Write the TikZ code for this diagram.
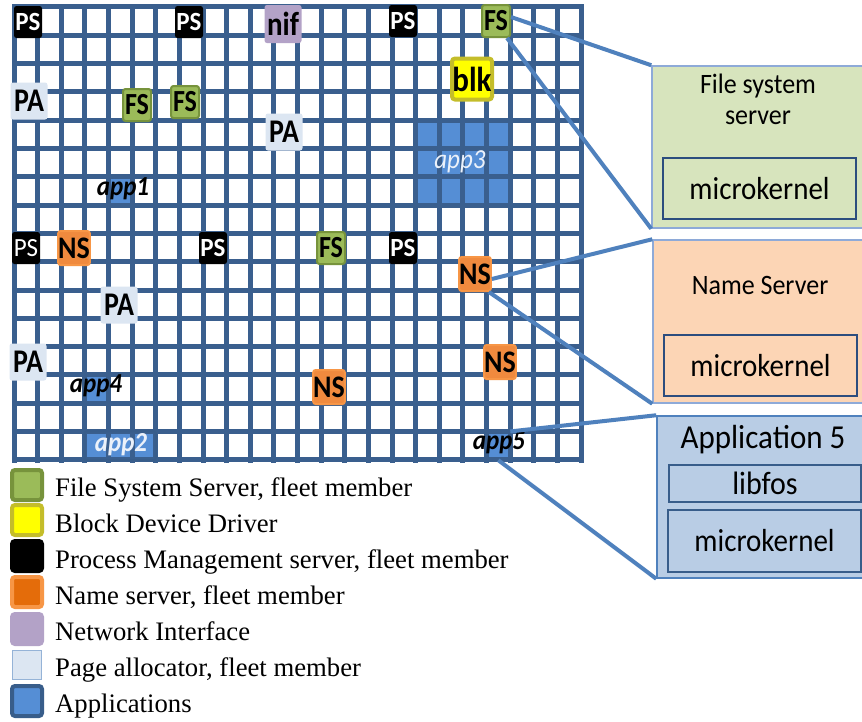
\documentclass[tikz,border=0pt]{standalone}
\usepackage{fontspec}
\setmainfont{Liberation Serif}
\newfontfamily\calfont{Carlito}
\newcommand\vstretch[2]{\scalebox{1}[#1]{#2}}

\definecolor{gridblue}{HTML}{3A5F8E}
\definecolor{appblue}{HTML}{558ED5}
\definecolor{appdark}{HTML}{385D8A}
\definecolor{fsgreen}{HTML}{9BBB59}
\definecolor{fsdark}{HTML}{77933C}
\definecolor{blkyellow}{HTML}{FFFF00}
\definecolor{blkdark}{HTML}{C4BD2A}
\definecolor{nsorange}{HTML}{F08A3E}
\definecolor{nslight}{HTML}{F79646}
\definecolor{nsdark}{HTML}{E46C0A}
\definecolor{nifpurple}{HTML}{B3A2C7}
\definecolor{pafill}{HTML}{DCE6F2}
\definecolor{paborder}{HTML}{95B3D7}
\definecolor{linkblue}{HTML}{4F81BD}
\definecolor{fspanel}{HTML}{D7E4BD}
\definecolor{nspanel}{HTML}{FCD5B5}
\definecolor{apppanel}{HTML}{B9CDE5}
\definecolor{panelborder}{HTML}{8EAAD8}
\definecolor{innerborder}{HTML}{2C4D7E}

\begin{document}
\begin{tikzpicture}[x=1pt,y=-1pt,
  gridline/.style={draw=gridblue,line width=5pt,line cap=rect},
  appcell/.style={fill=appblue,draw=none,inner sep=0pt,minimum width=23.625pt,minimum height=28.33pt},
  tag/.style={inner sep=0pt,rounded corners=2.5pt,font=\calfont\bfseries\fontsize{26}{26}\selectfont,minimum width=28pt,minimum height=32pt},
  pstag/.style={tag,fill=black,text=white,font=\calfont\bfseries\fontsize{25}{25}\selectfont},
  fstag/.style={tag,fill=fsgreen,draw=fsdark,line width=2pt},
  nstag/.style={tag,fill=nsorange,draw=nslight,line width=2pt,font=\calfont\bfseries\fontsize{28}{28}\selectfont,minimum width=29pt,minimum height=34pt},
  patag/.style={tag,fill=pafill,minimum width=37pt,minimum height=37pt,font=\calfont\bfseries\fontsize{28}{28}\selectfont},
  applbl/.style={inner sep=0pt,font=\calfont\bfseries\itshape\fontsize{25}{25}\selectfont},
  legsq/.style={inner sep=0pt,minimum size=30pt,line width=4pt,rounded corners=3pt},
  legtxt/.style={anchor=base west,inner sep=0pt,font=\fontsize{26.7}{26.7}\selectfont},
  panel/.style={draw=panelborder,line width=1.5pt,inner sep=0pt},
  inner/.style={draw=innerborder,line width=1.8pt,inner sep=0pt,font=\calfont\fontsize{29}{29}\selectfont},
  link/.style={draw=linkblue,line width=4pt}]

\clip (0,0) rectangle (862,721);
\fill[white] (0,0) rectangle (862,721);

% application cells
\node[appcell] (a1) at (120.31,190.85) {};
\foreach \c/\cx in {17/427.44,18/451.06,19/474.69,20/498.31}
  \foreach \r/\ry in {4/134.19,5/162.52,6/190.85}
    \node[appcell] (a3-\c-\r) at (\cx,\ry) {};
\node[appcell] (a4) at (96.69,389.16) {};
\foreach \c/\cx in {3/96.69,4/120.31,5/143.94}
  \node[appcell] (a2-\c) at (\cx,445.8) {};
\node[appcell] (a5) at (498.31,445.8) {};

% the mesh of cores
\foreach \i in {0,...,24}
  \draw[gridline] ({14+23.625*\i},6.7) -- ({14+23.625*\i},460.0);
\foreach \j in {0,...,16}
  \draw[gridline] (14,{6.7+28.33*\j}) -- (581,{6.7+28.33*\j});

% outline round the app2 cells
\draw[appdark,line width=2pt,rounded corners=2pt] (a2-3.north west) rectangle (a2-5.south east);

% services placed on cores
\node[pstag] (ps1) at (28,22) {\vstretch{1.05}{PS}};
\node[pstag] (ps2) at (189,22) {\vstretch{1.05}{PS}};
\node[tag,fill=nifpurple,minimum width=37pt,minimum height=38pt,font=\calfont\bfseries\fontsize{29}{29}\selectfont] (nif) at (283,24) {\vstretch{1.15}{nif}};
\node[pstag] (ps3) at (403,21) {\vstretch{1.05}{PS}};
\node[fstag] (fs4) at (496,21) {\vstretch{1.18}{FS}};
\node[tag,fill=blkyellow,draw=blkdark,line width=4pt,minimum width=40pt,minimum height=41pt,rounded corners=3pt,font=\calfont\bfseries\fontsize{31}{31}\selectfont] (blk) at (472,79) {\vstretch{1.12}{blk}};
\node[patag] (pa1) at (29,101) {\vstretch{1.18}{PA}};
\node[fstag] (fs1) at (137,105) {\vstretch{1.18}{FS}};
\node[fstag] (fs2) at (185,102) {\vstretch{1.18}{FS}};
\node[patag] (pa2) at (284,132) {\vstretch{1.18}{PA}};

\node[pstag,font=\calfont\fontsize{25}{25}\selectfont] (ps4) at (26,248) {\vstretch{1.05}{PS}};
\node[nstag] (ns1) at (74,248) {\vstretch{1.12}{NS}};
\node[pstag] (ps5) at (213,248) {\vstretch{1.05}{PS}};
\node[fstag] (fs3) at (331,248) {\vstretch{1.18}{FS}};
\node[pstag] (ps6) at (403,248) {\vstretch{1.05}{PS}};
\node[nstag] (ns2) at (475,274) {\vstretch{1.12}{NS}};
\node[patag] (pa3) at (119,305) {\vstretch{1.18}{PA}};
\node[patag] (pa4) at (28,362) {\vstretch{1.18}{PA}};
\node[nstag] (ns3) at (500,362) {\vstretch{1.12}{NS}};
\node[nstag] (ns4) at (329,387) {\vstretch{1.12}{NS}};

% application labels
\node[applbl] (l1) at (123,189) {\vstretch{1.1}{app1}};
\node[applbl,text=white!88!appblue,font=\calfont\itshape\fontsize{25}{25}\selectfont] (l3) at (460,162) {\vstretch{1.1}{app3}};
\node[applbl] (l4) at (96,386) {\vstretch{1.1}{app4}};
\node[applbl,text=white!88!appblue] (l2) at (121,445) {\vstretch{1.1}{app2}};
\node[applbl] (l5) at (499,443) {\vstretch{1.1}{app5}};

% detail panels
\node[panel,fill=fspanel,minimum width=218pt,minimum height=162pt] (p1) at (761,147) {};
\node[inner sep=0pt,align=center,font=\calfont\fontsize{26}{31}\selectfont] (p1t) at (758,99) {\vstretch{1.08}{File system}\\\vstretch{1.08}{server}};
\node[inner,minimum width=193pt,minimum height=61pt] (p1k) at (759.5,188.5) {\vstretch{1.1}{microkernel}};

\node[panel,fill=nspanel,minimum width=217pt,minimum height=163pt] (p2) at (761.5,321.5) {};
\node[inner sep=0pt,font=\calfont\fontsize{26}{26}\selectfont] (p2t) at (760,285) {\vstretch{1.08}{Name Server}};
\node[inner,minimum width=193pt,minimum height=61pt] (p2k) at (760.5,365.5) {\vstretch{1.1}{microkernel}};

\node[panel,draw=linkblue,fill=apppanel,minimum width=213pt,minimum height=162pt] (p3) at (763.5,497) {};
\node[inner sep=0pt,font=\calfont\fontsize{31}{31}\selectfont] (p3t) at (763,440) {\vstretch{1.08}{Application 5}};
\node[inner,draw=appdark,minimum width=192pt,minimum height=37pt,font=\calfont\fontsize{30}{30}\selectfont] (p3l) at (765,483.5) {\vstretch{1.08}{libfos}};
\node[inner,draw=appdark,minimum width=193pt,minimum height=62pt] (p3k) at (764.5,541) {\vstretch{1.1}{microkernel}};

% connectors from cores to panels
\draw[link] ([yshift=4pt]fs4.east) -- (p1.north west);
\draw[link] ([xshift=-4pt]fs4.south east) -- (p1.south west);
\draw[link] ([yshift=-5pt]ns2.east) -- (p2.north west);
\draw[link] ([xshift=-3pt]ns2.south east) -- (p2.south west);
\draw[link] (a5.north east) -- (p3.north west);
\draw[link] (a5.south) -- (p3.south west);

% legend
\node[legsq,fill=fsgreen,draw=fsdark] (k1) at (27,485) {};
\node[legsq,fill=blkyellow,draw=blkdark] (k2) at (27,520) {};
\node[legsq,fill=black,draw=black] (k3) at (27,556) {};
\node[legsq,fill=nsdark,draw=nslight] (k4) at (27,592) {};
\node[legsq,fill=nifpurple,draw=nifpurple] (k5) at (27,629) {};
\node[legsq,fill=pafill,draw=paborder,line width=1.2pt,rounded corners=0pt,minimum size=29pt] (k6) at (27,665) {};
\node[legsq,fill=appblue,draw=appdark] (k7) at (27,701) {};

\node[legtxt] (t1) at (55,496) {File System Server, fleet member};
\node[legtxt] (t2) at (55,532) {Block Device Driver};
\node[legtxt] (t3) at (55,568) {Process Management server, fleet member};
\node[legtxt] (t4) at (55,604) {Name server, fleet member};
\node[legtxt] (t5) at (55,640) {Network Interface};
\node[legtxt] (t6) at (55,676) {Page allocator, fleet member};
\node[legtxt] (t7) at (55,712) {Applications};
\end{tikzpicture}
\end{document}
